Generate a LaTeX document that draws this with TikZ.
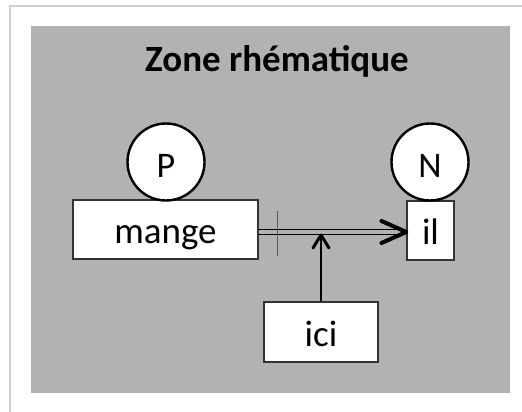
\documentclass[tikz,border=0pt]{standalone}
\usepackage{fontspec}
\setmainfont{Carlito}
\usetikzlibrary{calc}
\definecolor{panel}{HTML}{B2B2B2}
\definecolor{frame}{HTML}{CFCFCF}
\definecolor{boxline}{HTML}{333333}
\tikzset{
  boxnode/.style={draw=boxline, line width=1.2pt, fill=white, inner sep=0pt,
    font=\fontsize{37}{42}\selectfont, text height=28pt, text depth=0pt},
  circnode/.style={circle, draw=black, line width=2.4pt, fill=white, inner sep=0pt,
    minimum size=77pt, font=\fontsize{36}{42}\selectfont, text height=31pt, text depth=0pt},
  chevron/.style={line width=#1, line cap=round, line join=round},
}
\begin{document}
\begin{tikzpicture}[x=1pt,y=-1pt]
\useasboundingbox (0,0) rectangle (522,412);
\fill[white] (0,0) rectangle (522,412);
% outer frame
\draw[frame, line width=1.2pt] (10,412) -- (10,6) -- (522,6);
% panel
\fill[panel] (31,26) rectangle (510,393);
% title
\node[anchor=base, font=\fontsize{37}{42}\selectfont\bfseries] (title) at (277,72) {Zone rhématique};
% boxes
\node[boxnode, minimum width=185pt, minimum height=59pt] (mange) at (165.5,229.5) {mange};
\node[boxnode, minimum width=47pt, minimum height=59pt] (il) at (430.5,230.5) {il};
\node[boxnode, minimum width=114pt, minimum height=60pt] (ici) at (321,332) {ici};
% circles
\node[circnode] (P) at (166,162) {P};
\node[circnode] (N) at (430,162) {N};
% double connector
\coordinate (tip) at (il.west |- 0,232);
\coordinate (start) at (mange.east |- 0,232);
\draw[line width=1.4pt] ($(start)+(0,-2.5)$) -- ($(tip)+(-4,-2.5)$);
\draw[line width=1.4pt] ($(start)+(0,2.5)$) -- ($(tip)+(-4,2.5)$);
\draw[chevron=4pt] ($(tip)+(-25,-11)$) -- (tip) -- ($(tip)+(-25,11)$);
% tick
\draw[black!65, line width=1pt] (277,211) -- (277,256);
% vertical arrow from ici
\coordinate (vtip) at (ici.north |- 0,235);
\draw[line width=1.3pt] (ici.north) -- (vtip);
\draw[chevron=3pt] ($(vtip)+(-8,13)$) -- (vtip) -- ($(vtip)+(8,13)$);
\end{tikzpicture}
\end{document}
